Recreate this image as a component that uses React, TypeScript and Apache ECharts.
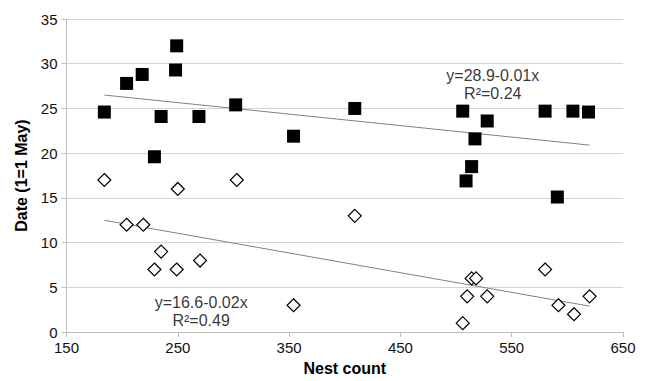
import React, { useEffect, useRef } from "react";
import * as echarts from "echarts";

// Early clutches (black squares): [nest count, date]
const earlyNests: number[][] = [
  [184, 24.6], [204, 27.8], [218, 28.8], [229, 19.6], [235, 24.1],
  [248, 29.3], [249, 32.0], [269, 24.1], [302, 25.4], [354, 21.9],
  [409, 25.0], [506, 24.7], [509, 16.9], [514, 18.5], [517, 21.6],
  [528, 23.6], [580, 24.7], [591, 15.1], [605, 24.7], [619, 24.6],
];

// Late clutches (white diamonds): [nest count, date]
const lateNests: number[][] = [
  [184, 17], [204, 12], [219, 12], [229, 7], [235, 9],
  [249, 7], [250, 16], [270, 8], [303, 17], [354, 3],
  [409, 13], [506, 1], [510, 4], [514, 6], [518, 6],
  [528, 4], [580, 7], [592, 3], [606, 2], [620, 4],
];

// Trend line end points
const earlyTrend: number[][] = [[184, 26.5], [620, 20.9]];
const lateTrend: number[][] = [[184, 12.5], [620, 2.9]];

// Annotation anchor points and texts
const annotations = [
  { value: [533, 27.7], text: "y=28.9-0.01x\nR²=0.24" },
  { value: [271, 2.3], text: "y=16.6-0.02x\nR²=0.49" },
];

const xTicks = { min: 150, max: 650, interval: 100 };
const yTicks = { min: 0, max: 35, interval: 5 };

export default function App() {
  const ref = useRef<HTMLDivElement>(null);

  useEffect(() => {
    if (!ref.current) return;
    const chart = echarts.init(ref.current, null, { renderer: "svg" });
    const font = "Liberation Sans, Arial, Helvetica, sans-serif";
    chart.setOption({
      animation: false,
      backgroundColor: "#ffffff",
      textStyle: { fontFamily: font },
      grid: { left: 66.5, right: 27, top: 19, bottom: 45 },
      xAxis: {
        type: "value",
        min: xTicks.min,
        max: xTicks.max,
        interval: xTicks.interval,
        name: "Nest count",
        nameLocation: "middle",
        nameGap: 27,
        nameTextStyle: { fontFamily: font, fontSize: 16, fontWeight: "bold", color: "#000" },
        axisLine: { show: true, lineStyle: { color: "#bdbdbd", width: 1 } },
        axisTick: { show: true, length: 5, inside: false, lineStyle: { color: "#bdbdbd" } },
        axisLabel: { fontFamily: font, fontSize: 15, color: "#111", margin: 8 },
        splitLine: { show: false },
      },
      yAxis: {
        type: "value",
        min: yTicks.min,
        max: yTicks.max,
        interval: yTicks.interval,
        name: "Date (1=1 May)",
        nameLocation: "middle",
        nameGap: 34,
        nameTextStyle: { fontFamily: font, fontSize: 16, fontWeight: "bold", color: "#000" },
        axisLine: { show: true, lineStyle: { color: "#bdbdbd", width: 1 } },
        axisTick: { show: true, length: 5, inside: false, lineStyle: { color: "#bdbdbd" } },
        axisLabel: { fontFamily: font, fontSize: 15, color: "#111", margin: 9 },
        splitLine: { show: true, lineStyle: { color: "#d4d4d4", width: 1 } },
      },
      series: [
        {
          type: "line",
          data: earlyTrend,
          symbol: "none",
          lineStyle: { color: "#808080", width: 1 },
          z: 2,
        },
        {
          type: "line",
          data: lateTrend,
          symbol: "none",
          lineStyle: { color: "#808080", width: 1 },
          z: 2,
        },
        {
          type: "scatter",
          data: earlyNests,
          symbol: "rect",
          symbolSize: 13,
          itemStyle: { color: "#000000", opacity: 1 },
          z: 3,
        },
        {
          type: "scatter",
          data: lateNests,
          symbol: "diamond",
          symbolSize: 13,
          itemStyle: { color: "#ffffff", borderColor: "#000000", borderWidth: 1.2, opacity: 1 },
          z: 3,
        },
        {
          type: "scatter",
          data: annotations.map((a) => ({ value: a.value, text: a.text })),
          symbolSize: 0,
          silent: true,
          label: {
            show: true,
            position: "inside",
            formatter: (p: any) => p.data.text,
            fontFamily: font,
            fontSize: 16,
            lineHeight: 18.5,
            color: "#000",
            align: "center",
            verticalAlign: "middle",
          },
          z: 4,
        },
      ],
    });
    return () => chart.dispose();
  }, []);

  return (
    <div
      ref={ref}
      style={{ position: "fixed", left: 0, top: 0, width: 650, height: 381 }}
    />
  );
}
